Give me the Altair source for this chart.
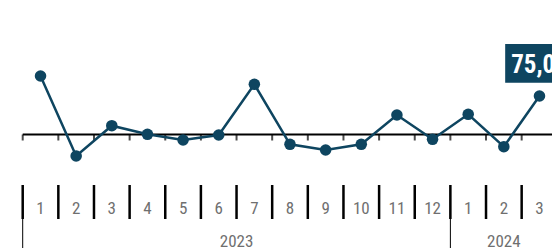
import altair as alt
import pandas as pd

# ---- data ----
months = ["1", "2", "3", "4", "5", "6", "7", "8", "9", "10", "11", "12", "1", "2", "3"]
years = ["2023"] * 12 + ["2024"] * 3
values = [77.03, 69.03, 72.06, 71.20, 70.63, 71.13, 76.20, 70.20, 69.63, 70.20,
          73.13, 70.70, 73.20, 69.96, 75.03]
baseline_value = 71.18
last_label = "75,03"

# ---- styling ----
DARK = "#0e4560"
GRAY = "#6f6f6f"
FONT = "Liberation Sans Narrow, Arial Narrow, Roboto Condensed, sans-serif"

n = len(values)
df = pd.DataFrame({
    "pos": [i + 0.5 for i in range(n)],
    "value": values,
    "month": months,
    "year": years,
})
bounds = pd.DataFrame({"b": list(range(n + 1)), "base": [baseline_value] * (n + 1)})

# year groups
ygroups = []
start = 0
for i in range(1, n + 1):
    if i == n or years[i] != years[start]:
        ygroups.append({"year": years[start], "start": start, "end": i, "mid": (start + i) / 2})
        start = i
ydf = pd.DataFrame(ygroups)
ybounds = pd.DataFrame({"b": sorted(set([g["start"] for g in ygroups] + [g["end"] for g in ygroups]))})

base_df = pd.DataFrame({"x0": [0], "x1": [n], "base": [baseline_value]})
last_df = df.tail(1).assign(label=last_label)

xs = alt.Scale(domain=[0, n], range=[14.7, 549.3])
ys = alt.Scale(domain=[60, 80], range=[238.3, 38.3])

baseline = alt.Chart(base_df).mark_rule(color="black", strokeWidth=2).encode(
    x=alt.X("x0:Q", scale=xs, axis=None),
    x2="x1:Q",
    y=alt.Y("base:Q", scale=ys, axis=None),
)

ticks = alt.Chart(bounds).mark_tick(
    color="black", orient="vertical", size=6, thickness=2, yOffset=3
).encode(
    x=alt.X("b:Q", scale=xs, axis=None),
    y=alt.Y("base:Q", scale=ys, axis=None),
)

line = alt.Chart(df).mark_line(color=DARK, strokeWidth=2.5).encode(
    x=alt.X("pos:Q", scale=xs, axis=None),
    y=alt.Y("value:Q", scale=ys, axis=None),
)

points = alt.Chart(df).mark_circle(color=DARK, size=133, opacity=1).encode(
    x=alt.X("pos:Q", scale=xs, axis=None),
    y=alt.Y("value:Q", scale=ys, axis=None),
)

month_sep = alt.Chart(bounds).mark_rule(color="black", strokeWidth=2.5).encode(
    x=alt.X("b:Q", scale=xs, axis=None),
    y=alt.value(177),
    y2=alt.value(211),
)

year_sep = alt.Chart(ybounds).mark_rule(color="black", strokeWidth=1).encode(
    x=alt.X("b:Q", scale=xs, axis=None),
    y=alt.value(177),
    y2=alt.value(245),
)

month_text = alt.Chart(df).mark_text(
    font=FONT, fontSize=17, color=GRAY, align="center", baseline="alphabetic"
).encode(
    x=alt.X("pos:Q", scale=xs, axis=None),
    y=alt.value(206),
    text="month:N",
)

year_text = alt.Chart(ydf).mark_text(
    font=FONT, fontSize=17, color=GRAY, align="center", baseline="alphabetic"
).encode(
    x=alt.X("mid:Q", scale=xs, axis=None),
    y=alt.value(239),
    text="year:N",
)

box = alt.Chart(last_df).mark_point(
    shape="M-1,-0.564H1V0.564H-1Z", size=4706, filled=True, opacity=1,
    color=DARK, strokeWidth=0, yOffset=-32.65
).encode(
    x=alt.X("pos:Q", scale=xs, axis=None),
    y=alt.Y("value:Q", scale=ys, axis=None),
)

box_text = alt.Chart(last_df).mark_text(
    font=FONT, fontSize=25, fontWeight="bold", color="white",
    align="center", baseline="alphabetic", dy=-22.7
).encode(
    x=alt.X("pos:Q", scale=xs, axis=None),
    y=alt.Y("value:Q", scale=ys, axis=None),
    text="label:N",
)

chart = alt.layer(
    baseline, ticks, line, points, month_sep, year_sep, month_text, year_text, box, box_text
).properties(
    width=544, height=240, padding=0,
    autosize=alt.AutoSizeParams(type="none"),
).configure_view(stroke=None)

chart.save("out.html", embed_options={"renderer": "svg", "actions": False})
